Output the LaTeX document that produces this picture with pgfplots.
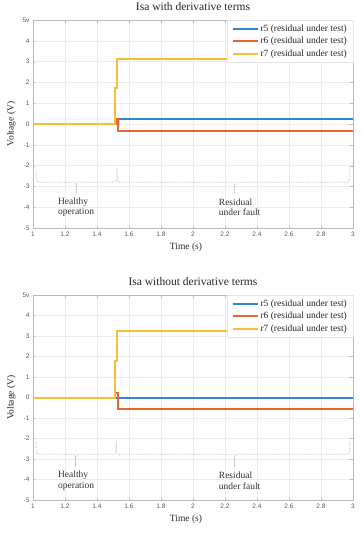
\documentclass[border=0pt]{standalone}
\usepackage{fontspec}
\setmainfont{Liberation Serif}
\newfontfamily\ticksans{Liberation Sans}
\usepackage{pgfplots}
\pgfplotsset{compat=1.18}
\definecolor{mblue}{rgb}{0.18,0.53,0.82}
\definecolor{morange}{rgb}{0.9,0.40,0.2}
\definecolor{myellow}{rgb}{0.96,0.75,0.22}
\tikzset{
 bracestyle/.style={draw=gray!55, densely dotted, line width=0.7pt},
 anno/.style={anchor=west, align=left, font=\fontsize{9.5}{10.5}\selectfont, text=black!80},
}
\newcommand{\mybrace}[6]{%
 \draw[bracestyle] (axis cs:#1,#4) .. controls (axis cs:#1,#5) .. ([xshift=4pt]axis cs:#1,#5) -- ([xshift=-4pt]axis cs:#2,#5) .. controls (axis cs:#2,#5) .. (axis cs:#2,#6) .. controls (axis cs:#2,#5) .. ([xshift=4pt]axis cs:#2,#5) -- ([xshift=-4pt]axis cs:#3,#5) .. controls (axis cs:#3,#5) .. (axis cs:#3,#4);}
\pgfplotsset{
 resid/.style={
  scale only axis, width=320pt,
  xmin=1,xmax=3,ymin=-5,ymax=5,
  xtick={1,1.2,1.4,1.6,1.8,2,2.2,2.4,2.6,2.8,3},
  xticklabels={1,1.2,1.4,1.6,1.8,2,2.2,2.4,2.6,2.8,3},
  ytick={-5,-4,-3,-2,-1,0,1,2,3,4,5},
  yticklabels={-5,-4,-3,-2,-1,0,1,2,3,4,5v},
  grid=major, major grid style={draw=gray!15, line width=0.4pt},
  axis line style={draw=gray!55},
  tick style={draw=gray!55},
  major tick length=2.5pt,
  tick align=inside,
  ticklabel style={font=\ticksans\fontsize{6.5}{7.5}\selectfont, text=black!65},
  xlabel={Time (s)}, ylabel={Voltage (V)},
  xlabel style={font=\fontsize{9.5}{10.5}\selectfont, text=black!85, xshift=-7pt},
  ylabel style={font=\fontsize{9.5}{10.5}\selectfont, text=black!85},
  title style={font=\fontsize{11.5}{13}\selectfont, text=black!85},
  legend style={at={(1,1)}, anchor=north east, draw=gray!20, font=\fontsize{9.5}{10.5}\selectfont, text=black!85, cells={anchor=west}, inner xsep=4pt, inner ysep=2.5pt, row sep=0.5pt},
  legend image code/.code={\draw[##1, line width=2pt] (0pt,0pt) -- (25pt,0pt);},
 },
}
\begin{document}
\begin{tikzpicture}
\path[use as bounding box] (-33pt,-322pt) rectangle (330pt,228pt);
\begin{axis}[resid, height=208pt, at={(0pt,0pt)}, anchor=south west,
  title={Isa with derivative terms}]
\addplot[color=mblue, line width=2pt] coordinates {(1,0) (1.527,0) (1.527,0.22) (3,0.22)};
\addlegendentry{r5 (residual under test)}
\addplot[color=morange, line width=2pt] coordinates {(1,0) (1.519,0) (1.519,0.25) (1.533,0.25) (1.533,-0.35) (3,-0.35)};
\addlegendentry{r6 (residual under test)}
\addplot[color=myellow, line width=2pt] coordinates {(1,0) (1.512,0) (1.512,1.74) (1.527,1.74) (1.527,3.14) (3,3.14)};
\addlegendentry{r7 (residual under test)}
\mybrace{1.02}{1.27}{1.525}{-2.2}{-2.8}{-3.35}
\mybrace{1.525}{2.26}{2.98}{-2.1}{-2.8}{-3.35}
\node[anno] at (axis cs:1.135,-4.0) {Healthy\\operation};
\node[anno] at (axis cs:2.14,-4.0) {Residual\\under fault};
\node[font=\fontsize{9.5}{10.5}\selectfont] at ([yshift=-37pt,xshift=-11pt]rel axis cs:0.5,0) {(c)};
\end{axis}
\begin{axis}[resid, height=205pt, at={(0pt,-272pt)}, anchor=south west,
  title={Isa without derivative terms}]
\addplot[color=mblue, line width=2pt] coordinates {(1,0) (3,0)};
\addlegendentry{r5 (residual under test)}
\addplot[color=morange, line width=2pt] coordinates {(1,0) (1.515,0) (1.515,0.2) (1.533,0.2) (1.533,-0.55) (3,-0.55)};
\addlegendentry{r6 (residual under test)}
\addplot[color=myellow, line width=2pt] coordinates {(1,0) (1.511,0) (1.511,1.8) (1.526,1.8) (1.526,3.22) (3,3.22)};
\addlegendentry{r7 (residual under test)}
\mybrace{1.02}{1.265}{1.52}{-2.17}{-2.77}{-3.38}
\mybrace{1.52}{2.26}{2.98}{-2.1}{-2.77}{-3.38}
\node[anno] at (axis cs:1.135,-4.05) {Healthy\\operation};
\node[anno] at (axis cs:2.14,-4.05) {Residual\\under fault};
\node[font=\bfseries\fontsize{9.5}{10.5}\selectfont] at ([yshift=-37pt,xshift=-11pt]rel axis cs:0.5,0) {(d)};
\end{axis}
\end{tikzpicture}
\end{document}
